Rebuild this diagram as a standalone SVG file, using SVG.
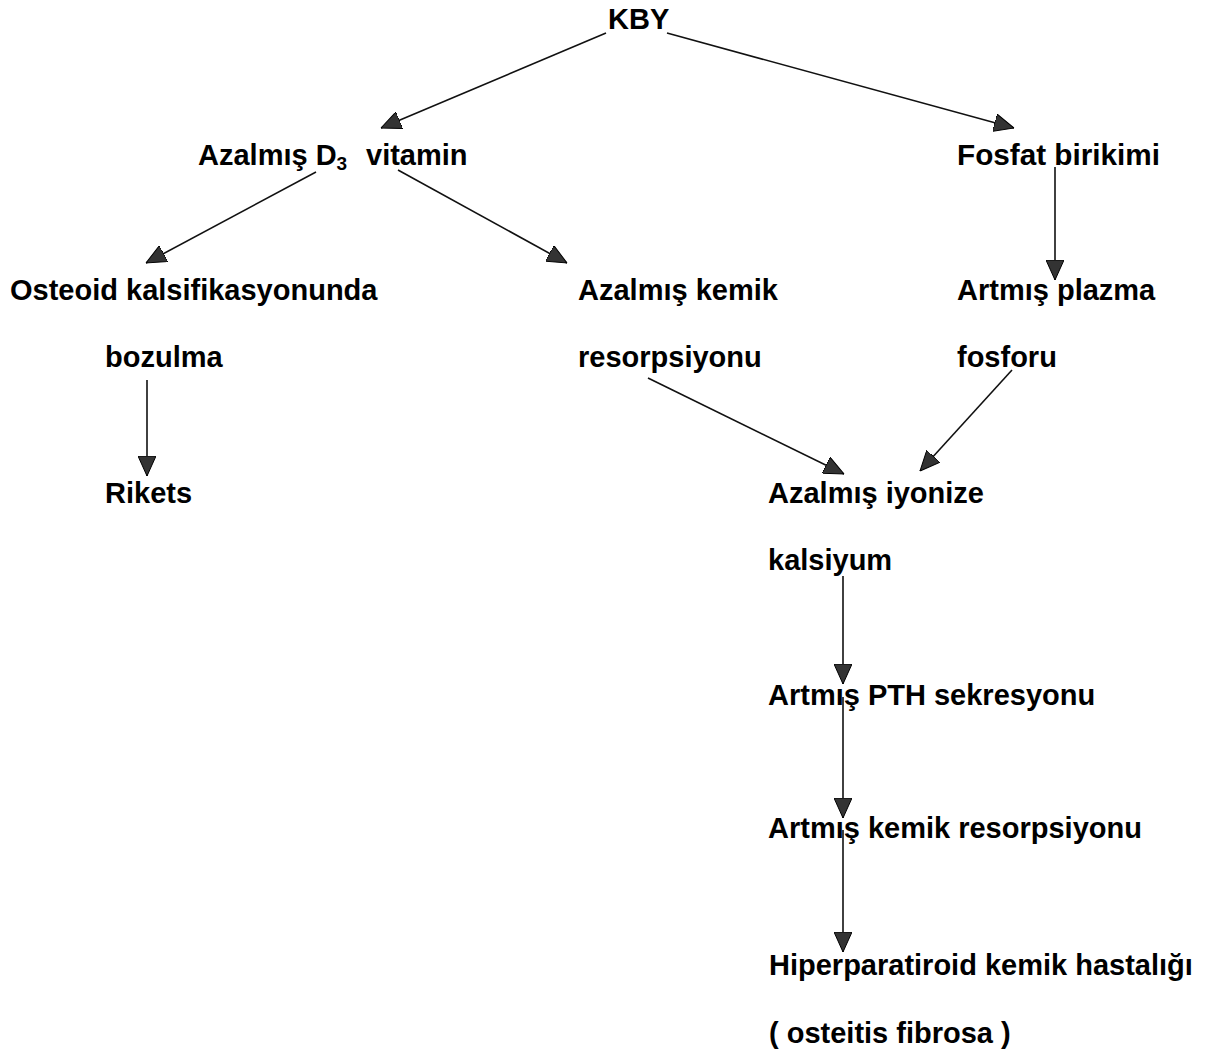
<svg xmlns="http://www.w3.org/2000/svg" width="1207" height="1053" viewBox="0 0 1207 1053">
<style>
text{font-family:"Liberation Sans",Arial,sans-serif;font-weight:bold;font-size:29px;fill:#000}
.c line{stroke:#111;stroke-width:1.6;marker-end:url(#ah)}
</style>
<defs>
<marker id="ah" viewBox="0 0 20 18" refX="20" refY="9" markerWidth="20" markerHeight="18" markerUnits="userSpaceOnUse" orient="auto">
<path d="M0,0 L20,9 L0,18 Z" fill="#333" stroke="#000" stroke-width="1"/>
</marker>
</defs>
<rect width="1207" height="1053" fill="#fff"/>
<g class="c">
<line x1="606" y1="33" x2="381" y2="128"/>
<line x1="667" y1="33" x2="1014" y2="128"/>
<line x1="316" y1="172" x2="146" y2="263"/>
<line x1="398" y1="170" x2="567" y2="263"/>
<line x1="1055" y1="167" x2="1055" y2="280"/>
<line x1="147" y1="380" x2="147" y2="476"/>
<line x1="648" y1="378" x2="844" y2="474"/>
<line x1="1012" y1="370" x2="920" y2="471"/>
<line x1="843" y1="576" x2="843" y2="684"/>
<line x1="843" y1="697" x2="843" y2="818"/>
<line x1="843" y1="830" x2="843" y2="952"/>
</g>
<g id="n-kby"><text x="608" y="29">KBY</text></g>
<g id="n-d3"><text x="198" y="165">Azalmış D<tspan font-size="19" dy="5">3</tspan><tspan x="366" dy="-5">vitamin</tspan></text></g>
<g id="n-fosfat"><text x="957" y="165" textLength="203" lengthAdjust="spacingAndGlyphs">Fosfat birikimi</text></g>
<g id="n-osteoid"><text x="10" y="300">Osteoid kalsifikasyonunda</text><text x="105" y="367">bozulma</text></g>
<g id="n-rikets"><text x="105" y="503">Rikets</text></g>
<g id="n-azkemik"><text x="578" y="300">Azalmış kemik</text><text x="578" y="367">resorpsiyonu</text></g>
<g id="n-plazma"><text x="957" y="300">Artmış plazma</text><text x="957" y="367">fosforu</text></g>
<g id="n-iyonize"><text x="768" y="503">Azalmış iyonize</text><text x="768" y="570">kalsiyum</text></g>
<g id="n-pth"><text x="768" y="705">Artmış PTH sekresyonu</text></g>
<g id="n-artkemik"><text x="768" y="838">Artmış kemik resorpsiyonu</text></g>
<g id="n-hiper"><text x="769" y="975">Hiperparatiroid kemik hastalığı</text><text x="769" y="1043">( osteitis fibrosa )</text></g>
</svg>
